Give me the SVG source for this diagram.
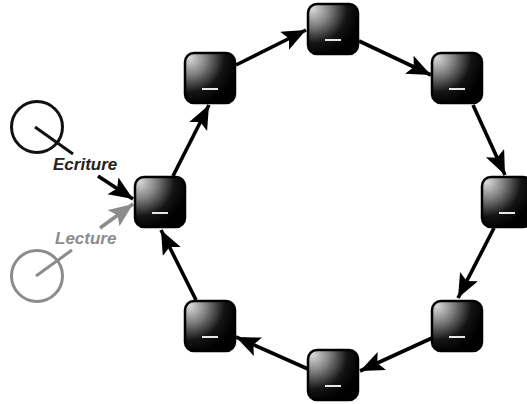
<svg xmlns="http://www.w3.org/2000/svg" width="527" height="404" viewBox="0 0 527 404">
<style>
.box{fill:url(#g);stroke:#000;stroke-width:2.5}
.dash{stroke:#fff;stroke-width:1.8;fill:none}
.c{stroke:#000;stroke-width:3.6;fill:none;marker-end:url(#a)}
.cg{stroke:#8c8c8c;stroke-width:3.6;fill:none;marker-end:url(#ag)}
text{font-family:"Liberation Sans",Arial,sans-serif;font-size:17px;font-weight:bold;font-style:italic}
</style>
<defs>
<radialGradient id="g" gradientUnits="objectBoundingBox" cx="0.1" cy="0.1" r="0.95">
<stop offset="0" stop-color="#d8d8d8"/><stop offset="0.35" stop-color="#808080"/><stop offset="0.72" stop-color="#141414"/><stop offset="1" stop-color="#000"/>
</radialGradient>
<marker id="a" markerUnits="userSpaceOnUse" markerWidth="26" markerHeight="22" refX="24" refY="10" orient="auto"><path d="M0 0L24 10L0 20L5 10Z" fill="#000"/></marker>
<marker id="ag" markerUnits="userSpaceOnUse" markerWidth="26" markerHeight="22" refX="24" refY="10" orient="auto"><path d="M0 0L24 10L0 20L5 10Z" fill="#8c8c8c"/></marker>
<g id="n"><rect class="box" x="-25" y="-25" width="50" height="50" rx="9"/><path class="dash" d="M-8 11H8"/></g>
</defs>
<g id="connectors">
<path class="c" d="M173 176L209 105"/>
<path class="c" d="M236 65L306 30"/>
<path class="c" d="M359 41L431 75"/>
<path class="c" d="M473 105L505 175"/>
<path class="c" d="M494 228L458 298"/>
<path class="c" d="M432 338L360 371"/>
<path class="c" d="M308 369L236 337"/>
<path class="c" d="M196 300L161 230"/>
<path class="c" d="M98 176L133 199"/>
<path class="cg" d="M100 228L133 204"/>
<path d="M35 127L73 154" stroke="#111" stroke-width="3" fill="none"/>
<path d="M36 276L72 250" stroke="#8c8c8c" stroke-width="3" fill="none"/>
</g>
<g id="writer"><circle cx="37" cy="127" r="25.5" fill="none" stroke="#111" stroke-width="3"/></g>
<g id="reader"><circle cx="37" cy="276" r="25.5" fill="none" stroke="#8c8c8c" stroke-width="3"/></g>
<g id="label-ecriture"><text x="53" y="170" fill="#222">Ecriture</text></g>
<g id="label-lecture"><text x="55" y="244" fill="#8c8c8c">Lecture</text></g>
<g id="node-left"><use href="#n" x="160" y="202"/></g>
<g id="node-top-left"><use href="#n" x="210" y="78"/></g>
<g id="node-top"><use href="#n" x="333" y="29"/></g>
<g id="node-top-right"><use href="#n" x="457" y="78"/></g>
<g id="node-right"><use href="#n" x="507" y="202"/></g>
<g id="node-bottom-right"><use href="#n" x="457" y="326"/></g>
<g id="node-bottom"><use href="#n" x="333" y="375"/></g>
<g id="node-bottom-left"><use href="#n" x="210" y="326"/></g>
</svg>
